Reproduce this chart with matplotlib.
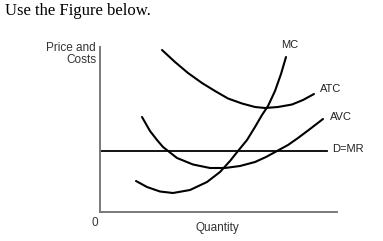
import matplotlib
matplotlib.use("Agg")
import matplotlib.pyplot as plt

# curves (quantity, price) in arbitrary units
atc_q = [6.2, 7.5, 8.8, 10.2, 11.5, 12.8, 14.2, 15.5, 16.5, 17.8, 19.2, 20.3, 21.4]
atc_p = [16.2, 15.0, 13.9, 12.9, 12.1, 11.35, 10.85, 10.5, 10.4, 10.5, 10.75, 11.2, 11.8]

avc_q = [4.2, 5.0, 5.7, 6.3, 7.7, 9.3, 11.0, 12.5, 14.0, 15.5, 16.6, 17.7, 18.8, 19.8, 21.0, 22.3]
avc_p = [9.5, 8.1, 7.2, 6.5, 5.4, 4.75, 4.4, 4.4, 4.6, 5.0, 5.5, 6.1, 6.7, 7.4, 8.3, 9.3]

mc_q = [3.6, 4.7, 6.0, 7.3, 9.0, 10.7, 12.0, 13.0, 13.8, 14.7, 15.5, 16.2, 16.8, 17.5, 18.1, 18.6]
mc_p = [3.1, 2.5, 2.05, 1.9, 2.2, 3.0, 4.0, 5.1, 6.1, 7.2, 8.5, 9.7, 10.6, 12.1, 13.8, 15.5]

dmr_q = [0.0, 22.7]
dmr_p = [6.1, 6.1]

labels = ["MC", "ATC", "AVC", "D=MR"]
label_pos = [(19.0, 16.7), (23.1, 12.3), (24.1, 9.5), (23.2, 6.25)]

plt.rcParams['font.family'] = ['Liberation Sans', 'DejaVu Sans']

fig = plt.figure(figsize=(3.83, 2.41), dpi=100)
ax = fig.add_axes([100/383, 1 - 212/241, 237/383, 165/241])

lw = 1.5
for q, p in [(atc_q, atc_p), (avc_q, avc_p), (mc_q, mc_p)]:
    ax.plot(q, p, c="k", lw=lw, solid_joinstyle="round", solid_capstyle="round")
ax.plot(dmr_q, dmr_p, c="k", lw=1.3)

ax.set_xlim(0, 23.7)
ax.set_ylim(0, 16.5)
ax.set_xticks([])
ax.set_yticks([])
for s in ["top", "right"]:
    ax.spines[s].set_visible(False)
for s in ["left", "bottom"]:
    ax.spines[s].set_color("#7a7a7a")
    ax.spines[s].set_linewidth(1.4)

for txt, (x, y) in zip(labels, label_pos):
    ha = "left" if txt == "D=MR" else "center"
    ax.text(x, y, txt, fontsize=8, ha=ha, va="center", color="#222222", clip_on=False)

ax.text(-0.4, 17.0, "Price and\nCosts", fontsize=8.5, ha="right", va="top",
        color="#333333", linespacing=1.0)
ax.text(-0.2, -1.1, "0", fontsize=8.5, ha="right", va="center", color="#333333")
ax.text(11.7, -1.55, "Quantity", fontsize=8.5, ha="center", va="center", color="#333333")

fig.text(5/383, 1 - 3/241, "Use the Figure below.", fontsize=12,
         family=["Liberation Serif", "DejaVu Serif"], ha="left", va="top")

fig.savefig("out.png", dpi=100)
